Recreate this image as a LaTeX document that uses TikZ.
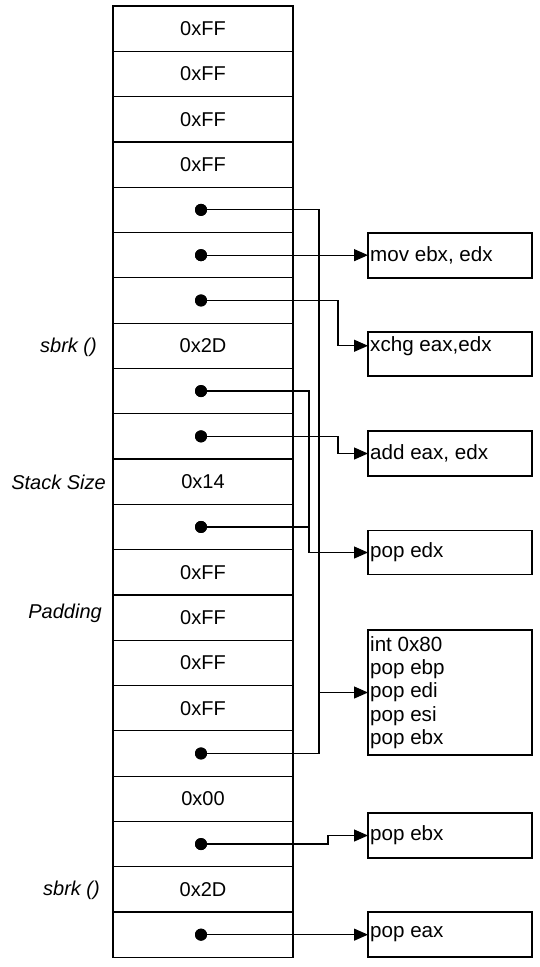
\documentclass[tikz,border=0pt]{standalone}
\usepackage{fontspec}
\setmainfont{Liberation Sans}
\usetikzlibrary{arrows.meta}
\begin{document}
\begin{tikzpicture}[x=1pt,y=-1pt,
  cell/.style={draw,line width=1.2pt,minimum width=180pt,minimum height=45.3pt,inner sep=0pt,outer sep=0pt,font=\fontsize{20}{22}\selectfont},
  ptr/.style={circle,fill,inner sep=0pt,minimum size=12pt},
  side/.style={anchor=east,inner sep=0pt,font=\fontsize{20}{22}\selectfont\itshape},
  gbox/.style={draw,line width=1.2pt,minimum width=164pt,inner sep=0pt,outer sep=0pt},
  code/.style={anchor=west,inner sep=0pt,xshift=2pt,font=\fontsize{20.6}{23.25}\selectfont,align=left},
  wire/.style={line width=1.2pt},
  arr/.style={wire,-{Triangle[length=14pt,width=12pt]}}
]
\useasboundingbox (0,0) rectangle (540,967);

% stack cells
\node[cell] (r0) at (203,28.65) {0xFF};
\node[cell] (r1) at (203,73.95) {0xFF};
\node[cell] (r2) at (203,119.25) {0xFF};
\node[cell] (r3) at (203,164.55) {0xFF};
\node[cell] (r4) at (203,209.85) {};
\node[cell] (r5) at (203,255.15) {};
\node[cell] (r6) at (203,300.45) {};
\node[cell] (r7) at (203,345.75) {0x2D};
\node[cell] (r8) at (203,391.05) {};
\node[cell] (r9) at (203,436.35) {};
\node[cell] (r10) at (203,481.65) {0x14};
\node[cell] (r11) at (203,526.95) {};
\node[cell] (r12) at (203,572.25) {0xFF};
\node[cell] (r13) at (203,617.55) {0xFF};
\node[cell] (r14) at (203,662.85) {0xFF};
\node[cell] (r15) at (203,708.15) {0xFF};
\node[cell] (r16) at (203,753.45) {};
\node[cell] (r17) at (203,798.75) {0x00};
\node[cell] (r18) at (203,844.05) {};
\node[cell] (r19) at (203,889.35) {0x2D};
\node[cell] (r20) at (203,934.65) {};

% side labels
\node[side] (l1) at (97,347) {sbrk ()};
\node[side] (l2) at (106,482) {Stack Size};
\node[side] (l3) at (102,613) {Padding};
\node[side] (l4) at (100,890) {sbrk ()};

% gadget boxes
\node[gbox,minimum height=45pt] (bmov) at (450,255.5) {};
\node[gbox,minimum height=44pt] (bxchg) at (450,354) {};
\node[gbox,minimum height=45pt] (badd) at (450,453.5) {};
\node[gbox,minimum height=44pt] (bpedx) at (450,552.5) {};
\node[gbox,minimum height=125pt] (bint) at (450,692.5) {};
\node[gbox,minimum height=45pt] (bpebx) at (450,835.5) {};
\node[gbox,minimum height=45pt] (bpeax) at (450,934.5) {};

\node[code] (tmov) at (bmov.west) {mov ebx, edx};
\node[code] (txchg) at (r7 -| bxchg.west) {xchg eax,edx};
\node[code] (tadd) at (badd.west) {add eax, edx};
\node[code] (tpedx) at (bpedx.west) {pop edx};
\node[code] (tint) at (bint.west) {int 0x80\\pop ebp\\pop edi\\pop esi\\pop ebx};
\node[code] (tpebx) at (bpebx.west) {pop ebx};
\node[code] (tpeax) at (bpeax.west) {pop eax};

% bus x positions
\coordinate (busA) at (319,0);
\coordinate (busB) at (338,0);
\coordinate (busC) at (309,0);
\coordinate (busD) at (328,0);

% pointer dots
\node[ptr] (d4) at (201,209.85) {};
\node[ptr] (d5) at (201,255.15) {};
\node[ptr] (d6) at (201,300.45) {};
\node[ptr] (d8) at (201,391.05) {};
\node[ptr] (d9) at (201,436.35) {};
\node[ptr] (d11) at (201,526.95) {};
\node[ptr] (d16) at (201,753.45) {};
\node[ptr] (d18) at (201,844.05) {};
\node[ptr] (d20) at (201,934.65) {};

% connectors
\draw[wire] (d4.center) -| (busA |- d16) -- (d16.center);
\draw[arr] (busA |- bint.west) -- (bint.west);
\draw[arr] (d5.center) -- (d5 -| bmov.west);
\draw[arr] (d6.center) -| (busB |- r7) -- (r7 -| bxchg.west);
\draw[arr] (d8.center) -| (busC |- bpedx.west) -- (bpedx.west);
\draw[wire] (d11.center) -- (d11 -| busC);
\draw[arr] (d9.center) -| (busB |- badd.west) -- (badd.west);
\draw[arr] (d18.center) -- (d18 -| busD) |- (bpebx.west);
\draw[arr] (d20.center) -- (d20 -| bpeax.west);

% redraw dots on top
\foreach \d in {d4,d5,d6,d8,d9,d11,d16,d18,d20} \fill (\d) circle (6pt);
\end{tikzpicture}
\end{document}
